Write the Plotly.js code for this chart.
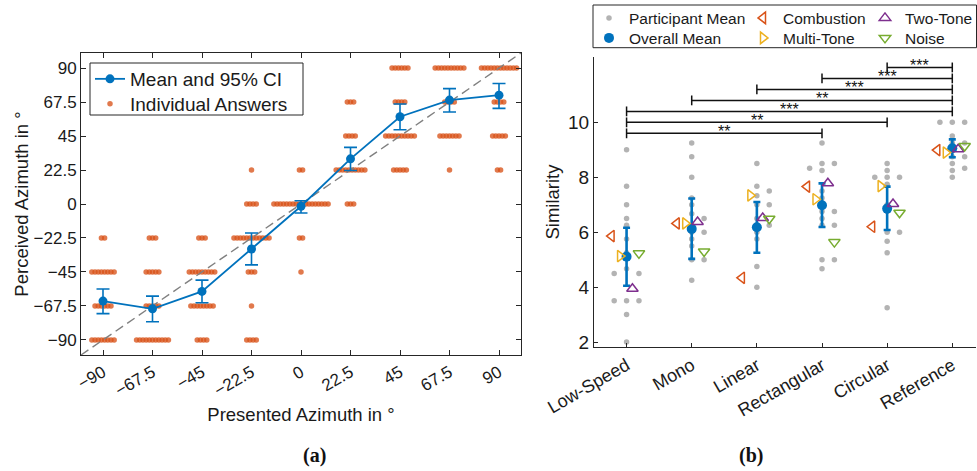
<!DOCTYPE html>
<html><head><meta charset="utf-8">
<script src="https://cdn.plot.ly/plotly-3.0.1.min.js"></script>
<style>html,body{margin:0;padding:0;background:#fff}</style>
</head><body><div id="chart" style="width:977px;height:471px"></div>
<script>
// ---------- Panel (a) data ----------
const azimuths = [-90, -67.5, -45, -22.5, 0, 22.5, 45, 67.5, 90];
const answerLevels = [-90, -67.5, -45, -22.5, 0, 22.5, 45, 67.5, 90];
// number of individual answers at each perceived level, per presented azimuth
const countsM90  = [8, 6, 8, 2, 0, 0, 0, 0, 0];
const countsM675 = [11, 5, 5, 3, 0, 0, 0, 0, 0];
const countsM45  = [4, 8, 9, 3, 0, 0, 0, 0, 0];
const countsM225 = [4, 1, 3, 12, 4, 1, 0, 0, 0];
const counts0    = [0, 0, 1, 2, 18, 2, 0, 0, 0];
const countsP225 = [0, 0, 0, 0, 3, 10, 4, 3, 0];
const countsP45  = [0, 0, 0, 0, 0, 5, 10, 4, 6];
const countsP675 = [0, 0, 0, 0, 0, 1, 7, 4, 10];
const countsP90  = [0, 0, 0, 0, 0, 2, 5, 4, 12];
const meanAz  = [-64.3, -69.4, -57.9, -29.8, -1.5, 29.9, 57.8, 68.8, 72.1];
const ciUpper = [-56.3, -61.0, -50.4, -19.2, 2.2, 37.5, 66.2, 76.4, 79.8];
const ciLower = [-72.6, -78.0, -65.4, -40.3, -6.0, 22.2, 49.2, 60.9, 63.3];

// ---------- Panel (b) data ----------
const variants = ['Low-Speed', 'Mono', 'Linear', 'Rectangular', 'Circular', 'Reference'];
const overallMean  = [5.11, 6.12, 6.18, 6.98, 6.86, 9.06];
const overallUpper = [6.16, 7.23, 7.10, 7.78, 7.66, 9.38];
const overallLower = [4.05, 5.03, 5.25, 6.19, 6.08, 8.73];
const combustion = [5.86, 6.32, 4.34, 7.66, 6.20, 8.99];
const multiTone  = [5.13, 6.32, 7.34, 7.20, 7.68, 8.90];
const twoTone    = [3.94, 6.37, 6.52, 7.78, 7.03, 9.02];
const noise      = [5.23, 5.30, 6.49, 5.64, 6.71, 9.14];
const ptLowSpeed = [9.0, 7.67, 7.0, 6.5, 6.25, 5.75, 5.25, 4.67, 4.5, 4.5, 3.5, 3.5, 3.5, 3.0, 2.0];
const ptMono     = [9.25, 8.75, 8.0, 7.25, 7.0, 6.67, 6.5, 6.25, 6.0, 6.0, 5.75, 5.5, 5.0, 5.0, 4.25];
const ptLinear   = [8.5, 7.67, 7.5, 7.33, 7.0, 7.0, 6.5, 6.25, 6.25, 6.0, 5.75, 4.75, 4.0];
const ptRect     = [9.25, 8.5, 8.5, 8.33, 8.25, 7.5, 7.25, 6.75, 6.75, 6.5, 6.25, 6.25, 5.0, 5.0, 4.67];
const ptCirc     = [8.5, 8.25, 8.0, 8.0, 8.0, 7.75, 7.0, 6.75, 6.0, 6.0, 5.67, 5.25, 3.25];
const ptRef      = [10, 10, 10, 9.5, 9.25, 9.25, 9.0, 8.75, 8.75, 8.5, 8.33, 8.25, 8.0];
const sigFrom  = ['Low-Speed', 'Low-Speed', 'Low-Speed', 'Mono', 'Linear', 'Rectangular', 'Circular'];
const sigTo    = ['Rectangular', 'Circular', 'Reference', 'Reference', 'Reference', 'Reference', 'Reference'];
const sigLabel = ['**', '**', '***', '**', '***', '***', '***'];

// ---------- build ----------
const FONT = 'Liberation Sans, Arial, Helvetica, sans-serif';
const AX = '#262626';
const BLUE = '#0072BD';
const W = 977, H = 471;
const px = v => v / W, py = v => 1 - v / H;
const allCounts = [countsM90, countsM675, countsM45, countsM225, counts0, countsP225, countsP45, countsP675, countsP90];
const ansX = [], ansY = [];
const dotStep = 1.45;
allCounts.forEach((row, i) => {
  row.forEach((n, j) => {
    for (let k = 0; k < n; k++) {
      ansX.push(azimuths[i] + (k - (n - 1) / 2) * dotStep);
      ansY.push(answerLevels[j]);
    }
  });
});
const traces = [];
traces.push({type: 'scatter', mode: 'markers', x: ansX, y: ansY, xaxis: 'x', yaxis: 'y',
  name: 'Individual Answers', legend: 'legend8',
  marker: {color: '#D95319', opacity: 0.78, size: 5.5}});
const xr = [-100, 100];
traces.push({type: 'scatter', mode: 'lines', x: xr, y: xr, xaxis: 'x', yaxis: 'y', showlegend: false,
  line: {color: '#808080', width: 1.4, dash: '9px,5px'}, hoverinfo: 'skip'});
traces.push({type: 'scatter', mode: 'lines+markers', x: azimuths, y: meanAz, xaxis: 'x', yaxis: 'y',
  name: 'Mean and 95% CI', legend: 'legend',
  line: {color: BLUE, width: 1.8}, marker: {color: BLUE, size: 9},
  error_y: {type: 'data', symmetric: false, array: ciUpper.map((u, i) => u - meanAz[i]),
    arrayminus: ciLower.map((l, i) => meanAz[i] - l), color: BLUE, thickness: 1.6, width: 6.5}});

// panel b
const catPos = v => variants.indexOf(v) + 1;
function swarm(vals, center, step, thr) {
  const placed = [];
  vals.forEach(v => {
    for (let k = 0; k < 12; k++) {
      const m = k === 0 ? 0 : (k % 2 ? 1 : -1) * Math.ceil(k / 2);
      const off = m * step;
      if (!placed.some(p => Math.abs(p.v - v) < thr && Math.abs(p.o - off) < step * 0.9)) {
        placed.push({v: v, o: off}); break;
      }
    }
  });
  return {x: placed.map(p => center + p.o), y: placed.map(p => p.v)};
}
const ptSets = [ptLowSpeed, ptMono, ptLinear, ptRect, ptCirc, ptRef];
const gx = [], gy = [];
ptSets.forEach((s, i) => { const r = swarm(s, i + 1, 0.19, 0.2); gx.push(...r.x); gy.push(...r.y); });
traces.push({type: 'scatter', mode: 'markers', x: gx, y: gy, xaxis: 'x2', yaxis: 'y2',
  name: 'Participant Mean', legend: 'legend2', marker: {color: '#b3b3b3', size: 5.5}});
const conds = [
  {name: 'Combustion', vals: combustion, sym: 'triangle-left-open', col: '#D95319', off: -0.23, lg: 'legend4'},
  {name: 'Multi-Tone', vals: multiTone, sym: 'triangle-right-open', col: '#EDB120', off: -0.10, lg: 'legend5'},
  {name: 'Two-Tone', vals: twoTone, sym: 'triangle-up-open', col: '#7E2F8E', off: 0.09, lg: 'legend6'},
  {name: 'Noise', vals: noise, sym: 'triangle-down-open', col: '#77AC30', off: 0.19, lg: 'legend7'}
];
traces.push({type: 'scatter', mode: 'markers', x: variants.map((v, i) => i + 1), y: overallMean,
  xaxis: 'x2', yaxis: 'y2', name: 'Overall Mean', legend: 'legend3',
  marker: {color: BLUE, size: 10},
  error_y: {type: 'data', symmetric: false, array: overallUpper.map((u, i) => u - overallMean[i]),
    arrayminus: overallLower.map((l, i) => overallMean[i] - l), color: BLUE, thickness: 2.6, width: 3.5}});
conds.forEach(c => {
  traces.push({type: 'scatter', mode: 'markers', x: variants.map((v, i) => i + 1 + c.off), y: c.vals,
    xaxis: 'x2', yaxis: 'y2', name: c.name, legend: c.lg,
    marker: {symbol: c.sym, color: c.col, size: 10, line: {width: 1.5, color: c.col}}});
});
const sigBase = 9.6, sigStep = 0.4;
const annotations = [];
sigFrom.forEach((f, i) => {
  const y = sigBase + sigStep * i;
  const x0 = catPos(f), x1 = catPos(sigTo[i]);
  traces.push({type: 'scatter', mode: 'lines+markers', x: [x0, x1], y: [y, y], xaxis: 'x2', yaxis: 'y2',
    showlegend: false, hoverinfo: 'skip', line: {color: '#111', width: 1.5},
    marker: {symbol: 'line-ns-open', size: 7, color: '#111', line: {width: 1.5, color: '#111'}}});
  annotations.push({xref: 'x2', yref: 'y2', x: (x0 + x1) / 2, y: y, text: sigLabel[i], showarrow: false,
    yanchor: 'bottom', yshift: -9, font: {family: FONT, size: 16, color: '#111'}});
});
annotations.push({xref: 'paper', yref: 'paper', x: px(301), y: py(455), yanchor: 'middle', text: '<b>(a)</b>', showarrow: false,
  font: {family: 'Liberation Serif, serif', size: 20, color: '#111'}});
annotations.push({xref: 'paper', yref: 'paper', x: px(765), y: py(455), yanchor: 'middle', text: '<b>(b)</b>', showarrow: false,
  font: {family: 'Liberation Serif, serif', size: 20, color: '#111'}});

const tickFont = {family: FONT, size: 17, color: '#1a1a1a'};
const titleFont = {family: FONT, size: 18.5, color: '#1a1a1a'};
const lgFontA = {family: FONT, size: 19, color: '#1a1a1a'};
const lgFontB = {family: FONT, size: 15.5, color: '#1a1a1a'};
const mkLegend = (x, y, f) => ({x: px(x), y: py(y), xanchor: 'left', yanchor: 'top', bgcolor: 'rgba(0,0,0,0)', font: f});
const layout = {
  width: W, height: H, margin: {l: 0, r: 0, t: 0, b: 0, autoexpand: false},
  paper_bgcolor: '#fff', plot_bgcolor: '#fff', font: {family: FONT},
  xaxis: {domain: [px(81), px(521)], anchor: 'y', range: xr, tickvals: azimuths, tickangle: -30,
    ticks: 'inside', ticklen: 5, tickcolor: AX, showline: true, linecolor: AX, linewidth: 1, mirror: 'ticks',
    showgrid: false, zeroline: false, tickfont: tickFont, automargin: false,
    title: {text: 'Presented Azimuth in °', font: titleFont}},
  yaxis: {domain: [py(355), py(53)], anchor: 'x', range: [-100, 100], tickvals: azimuths,
    ticks: 'inside', ticklen: 5, tickcolor: AX, showline: true, linecolor: AX, linewidth: 1, mirror: 'ticks',
    showgrid: false, zeroline: false, tickfont: tickFont, automargin: false,
    title: {text: 'Perceived Azimuth in °', font: titleFont}},
  xaxis2: {domain: [px(594), px(976)], anchor: 'y2', range: [0.5, 6.364], tickvals: [1, 2, 3, 4, 5, 6],
    ticktext: variants, tickangle: -30, ticks: 'inside', ticklen: 4, tickcolor: AX, showline: true,
    linecolor: AX, linewidth: 1, showgrid: false, zeroline: false, tickfont: {family: FONT, size: 18, color: '#1a1a1a'},
    automargin: false},
  yaxis2: {domain: [py(347), py(57)], anchor: 'x2', range: [1.82, 12.38], tickvals: [2, 4, 6, 8, 10],
    ticks: 'inside', ticklen: 4, tickcolor: AX, showline: true, linecolor: AX, linewidth: 1,
    showgrid: false, zeroline: false, tickfont: {family: FONT, size: 19, color: '#1a1a1a'}, automargin: false,
    title: {text: 'Similarity', font: titleFont, standoff: 3}},
  legend: mkLegend(90, 60, lgFontA),
  legend8: mkLegend(90, 85, lgFontA),
  legend2: mkLegend(589, 1.3, lgFontB),
  legend3: mkLegend(589, 21.3, lgFontB),
  legend4: mkLegend(743, 1.3, lgFontB),
  legend5: mkLegend(743, 21.3, lgFontB),
  legend6: mkLegend(865, 1.3, lgFontB),
  legend7: mkLegend(865, 21.3, lgFontB),
  shapes: [
    {type: 'rect', xref: 'paper', yref: 'paper', x0: px(90), x1: px(303), y0: py(115), y1: py(63),
      line: {color: AX, width: 1}, fillcolor: 'rgba(255,255,255,0)'},
    {type: 'rect', xref: 'paper', yref: 'paper', x0: px(593), x1: px(976.5), y0: py(47.7), y1: py(5),
      line: {color: AX, width: 1}}],
  annotations: annotations
};
Plotly.newPlot('chart', traces, layout, {displayModeBar: false, staticPlot: true});
</script></body></html>
